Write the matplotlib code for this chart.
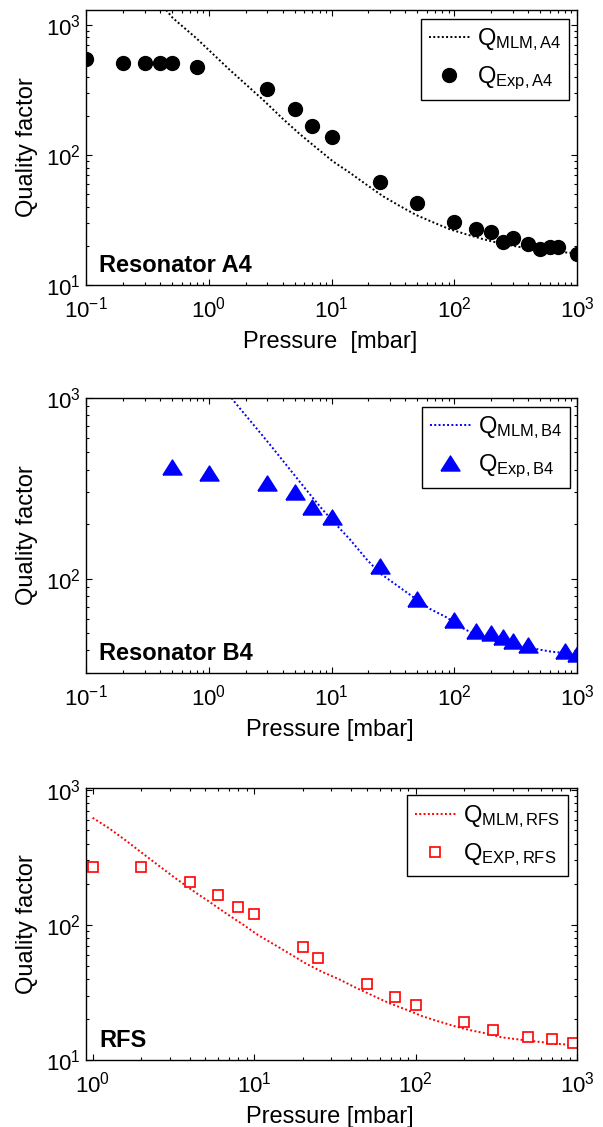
import matplotlib
matplotlib.use('Agg')
import matplotlib.pyplot as plt
from matplotlib.ticker import LogLocator, NullFormatter

plt.rcParams['font.family'] = ['Liberation Sans', 'DejaVu Sans']
plt.rcParams['mathtext.fontset'] = 'custom'
plt.rcParams['mathtext.rm'] = 'Liberation Sans'
plt.rcParams['mathtext.it'] = 'Liberation Sans:italic'
plt.rcParams['mathtext.bf'] = 'Liberation Sans:bold'
plt.rcParams['font.size'] = 17

# Resonator A4
p_exp_a4 = [0.1, 0.2, 0.3, 0.4, 0.5, 0.8, 3, 5, 7, 10, 25, 50, 100, 150, 200,
            250, 300, 400, 500, 600, 700, 1000]
q_exp_a4 = [547, 507, 507, 507, 507, 477, 322, 224, 167, 138, 62, 42.5, 30.3,
            27, 25.4, 21.5, 23.1, 20.5, 18.8, 19.6, 19.6, 17.3]
p_mlm_a4 = [0.45, 0.51, 0.79, 1.48, 2.77, 4.0, 5.5, 7.0, 10.3, 14.1, 19.3, 26.4,
            36, 49, 67.5, 92, 126, 172, 235, 350, 500, 700, 1000]
q_mlm_a4 = [1300, 1127, 791, 451, 265, 190, 145, 120, 89, 73, 59, 48, 40.5,
            34.5, 30.3, 26.8, 24.5, 22.5, 20.9, 19.5, 18.6, 18.0, 17.5]

# Resonator B4
p_exp_b4 = [0.5, 1, 3, 5, 7, 10, 25, 50, 100, 150, 200, 250, 300, 400, 800, 1000]
q_exp_b4 = [414, 386, 337, 300, 250, 220, 117, 77.4, 58.8, 51.2, 49.9, 47.5,
            45.1, 42.7, 39.6, 38.3]
p_mlm_b4 = [1.53, 1.79, 2.45, 3.34, 4.57, 6.25, 8.54, 11.7, 14.1, 19.3, 24.8,
            33.9, 46.3, 63.3, 86.5, 118, 162, 220, 300, 400, 600, 1000]
q_mlm_b4 = [1000, 877, 679, 526, 403, 309, 239, 189, 165, 128, 107, 92, 79, 68,
            61, 53, 47.5, 45, 43, 41.5, 39.5, 38]

# RFS
p_exp_rfs = [1, 2, 4, 6, 8, 10, 20, 25, 50, 75, 100, 200, 300, 500, 700, 950]
q_exp_rfs = [270, 270, 207, 165, 136, 121, 68.4, 57.2, 36.3, 29.1, 25.4, 19.1,
             16.6, 14.8, 14.2, 13.4]
p_mlm_rfs = [1, 1.26, 1.59, 2.02, 2.56, 3.25, 4.12, 5.21, 6.62, 8.39, 10.6,
             16.5, 20.9, 26.4, 33.6, 42.6, 53.9, 68.4, 86.7, 110, 139, 177, 224,
             284, 343, 500, 700, 1000]
q_mlm_rfs = [620, 520, 425, 341, 275, 222, 181, 150, 123, 102, 84, 61.5, 51.8,
             44.9, 39.6, 34.3, 30.1, 26.4, 23.7, 21.1, 19.3, 17.7, 16.5, 15.6,
             14.7, 13.9, 13.3, 12.8]

tri = [(-1, -0.79), (1, -0.79), (0, 0.79), (-1, -0.79)]

W, H = 603, 1127
fig = plt.figure(figsize=(W / 100, H / 100), dpi=100)


def panel(rect_px, xlim, ylim, mlm, exp, color, mstyle, labels, name, xlab, leg_anchor):
    x0, y0, x1, y1 = rect_px
    ax = fig.add_axes([x0 / W, 1 - y1 / H, (x1 - x0) / W, (y1 - y0) / H])
    ax.set_xscale('log')
    ax.set_yscale('log')
    ax.plot(mlm[0], mlm[1], color=color, linestyle=(0, (1, 1.2)), lw=1.4,
            label=labels[0])
    ax.plot(exp[0], exp[1], linestyle='none', label=labels[1], **mstyle)
    ax.set_xlim(*xlim)
    ax.set_ylim(*ylim)
    ax.xaxis.set_major_locator(LogLocator(base=10, numticks=10))
    ax.xaxis.set_minor_locator(LogLocator(base=10, subs=range(2, 10), numticks=50))
    ax.yaxis.set_minor_locator(LogLocator(base=10, subs=range(2, 10), numticks=50))
    ax.xaxis.set_minor_formatter(NullFormatter())
    ax.yaxis.set_minor_formatter(NullFormatter())
    ax.tick_params(which='both', direction='in', top=True, right=True, width=0.8)
    ax.tick_params(which='major', length=4, labelsize=16)
    ax.tick_params(axis='x', which='major', pad=8)
    ax.tick_params(axis='y', which='major', pad=3.5)
    ax.tick_params(which='minor', length=2)
    for s in ax.spines.values():
        s.set_linewidth(1.0)
    ax.set_ylabel('Quality factor', fontsize=17)
    ax.yaxis.set_label_coords(-0.097, 0.5)
    ax.set_xlabel(xlab, fontsize=17)
    ax.xaxis.label.set_va('baseline')
    ax.xaxis.set_label_coords(0.497, -63 / (y1 - y0))
    ax.text(0.027, 0.046, name, transform=ax.transAxes, fontsize=17,
            fontweight='bold', va='baseline', ha='left')
    leg = ax.legend(loc='upper right', bbox_to_anchor=leg_anchor, borderaxespad=0,
                    fancybox=False, edgecolor='black', framealpha=1, numpoints=1,
                    handlelength=1.75, handletextpad=0.3, borderpad=0.32,
                    labelspacing=0.5, fontsize=17)
    leg.get_frame().set_linewidth(1.0)
    return ax


panel((86, 10, 577, 285), (0.1, 1000), (10, 1300),
      (p_mlm_a4, q_mlm_a4), (p_exp_a4, q_exp_a4), 'black',
      dict(marker='o', markersize=10, color='black'),
      (r'Q$_{\mathrm{MLM,A4}}$', r'Q$_{\mathrm{Exp,A4}}$'),
      'Resonator A4', 'Pressure  [mbar]', (0.984, 0.968))

panel((86, 398, 577, 673), (0.1, 1000), (30, 1000),
      (p_mlm_b4, q_mlm_b4), (p_exp_b4, q_exp_b4), 'blue',
      dict(marker=tri, markersize=13.7, color='blue'),
      (r'Q$_{\mathrm{MLM,B4}}$', r'Q$_{\mathrm{Exp,B4}}$'),
      'Resonator B4', 'Pressure [mbar]', (0.986, 0.968))

panel((86, 788, 577, 1060), (0.91, 1000), (10, 1030),
      (p_mlm_rfs, q_mlm_rfs), (p_exp_rfs, q_exp_rfs), 'red',
      dict(marker='s', markersize=6.8, markerfacecolor='white',
           markeredgecolor='red', markeredgewidth=1.2),
      (r'Q$_{\mathrm{MLM,RFS}}$', r'Q$_{\mathrm{EXP,RFS}}$'),
      'RFS', 'Pressure [mbar]', (0.981, 0.973))

fig.savefig('out.png', dpi=100)
